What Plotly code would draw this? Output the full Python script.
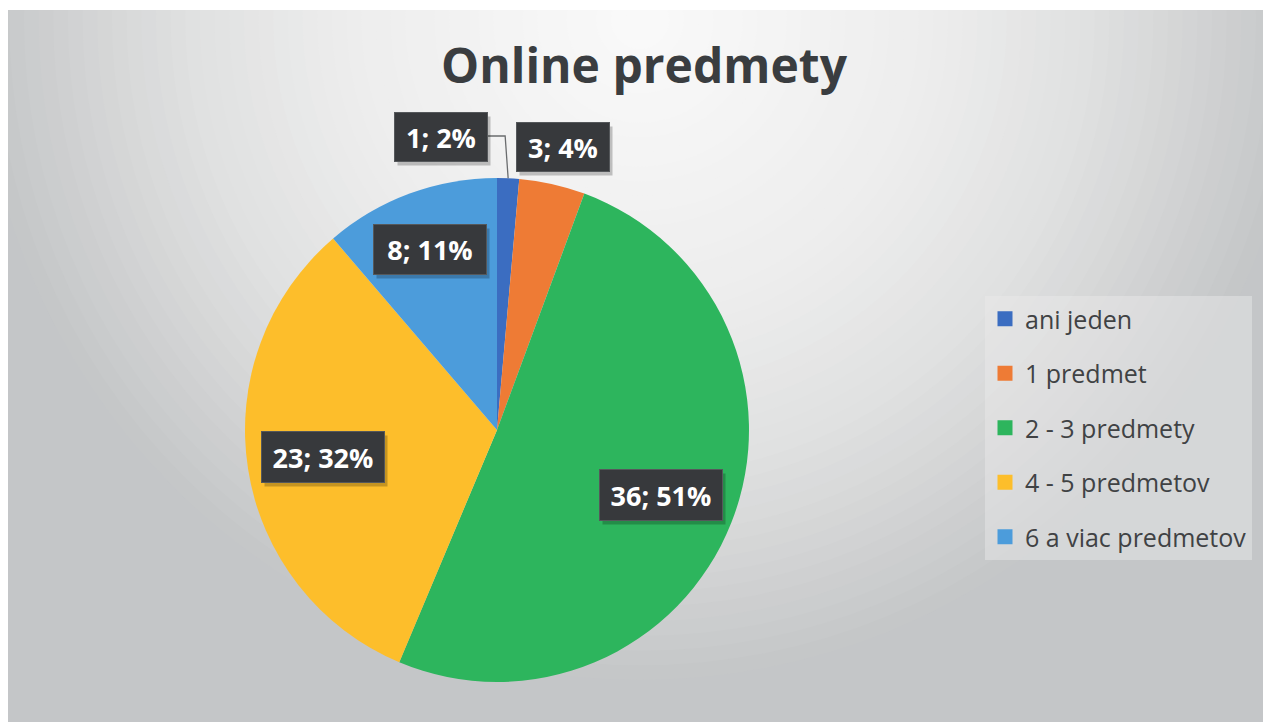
import math
import plotly.graph_objects as go

# ---- data ----
categories = ["ani jeden", "1 predmet", "2 - 3 predmety", "4 - 5 predmetov", "6 a viac predmetov"]
counts = [1, 3, 36, 23, 8]
percent_labels = ["2%", "4%", "51%", "32%", "11%"]
title_text = "Online predmety"

# ---- styles ----
colors = ["#3B6DC1", "#EE7B35", "#2DB55D", "#FDBE2B", "#4C9CDB"]
OFF = 8                         # page body margin
W, H = 1271 - OFF, 722 - OFF    # figure size
PCX, PCY, PR = 497, 430, 252    # pie centre / radius in screen px
label_radial = [None, None, 0.70, 0.70, 0.765]
label_fixed_px = {0: (441, 137), 1: (563, 147)}
label_box = [(92, 48), (92, 48), (122, 50), (122, 50), (112, 49)]
FONT = "Open Sans"

def px(x):
    return (x - OFF) / W

def py(y):
    return 1 - (y - OFF) / H

fig = go.Figure()

fig.add_trace(go.Pie(
    labels=categories,
    values=counts,
    sort=False,
    direction="clockwise",
    rotation=0,
    marker=dict(colors=colors, line=dict(width=0)),
    textinfo="none",
    hoverinfo="label+value+percent",
    showlegend=False,
    domain=dict(x=[px(PCX - PR), px(PCX + PR)], y=[py(PCY + PR), py(PCY - PR)]),
))

# legend entries (one per category) for spacing control
for i, (cat, col) in enumerate(zip(categories, colors)):
    fig.add_trace(go.Scatter(
        x=[None], y=[None], mode="markers", name=cat,
        marker=dict(symbol="square", size=15, color=col),
        legendgroup=f"g{i}", showlegend=True, hoverinfo="skip",
    ))

# ---- background radial gradient ----
shapes = []
shapes.append(dict(type="rect", xref="paper", yref="paper", x0=0, x1=1, y0=0, y1=1,
                   fillcolor="rgb(196,198,200)", line=dict(width=0), layer="below"))
GCX, GCY, GR = 640, 20, 660
stops = [(0.0, (250, 250, 250)), (0.45, (237, 237, 237)), (0.7, (223, 224, 224)),
         (0.88, (208, 209, 210)), (1.0, (197, 199, 200))]

def grad(t):
    for (t0, c0), (t1, c1) in zip(stops[:-1], stops[1:]):
        if t <= t1:
            f = (t - t0) / (t1 - t0)
            return tuple(round(a + (b - a) * f) for a, b in zip(c0, c1))
    return stops[-1][1]

N = 45
for k in range(N, 0, -1):
    t = k / N
    r = GR * t
    c = grad(t)
    shapes.append(dict(type="circle", xref="paper", yref="paper",
                       x0=px(GCX - r), x1=px(GCX + r), y0=py(GCY + r), y1=py(GCY - r),
                       fillcolor=f"rgb{c}", line=dict(width=0), layer="below"))
# thin white strip at the top
shapes.append(dict(type="rect", xref="paper", yref="paper", x0=0, x1=1, y0=py(10), y1=1.01,
                   fillcolor="white", line=dict(width=0), layer="below"))

# ---- data labels ----
total = sum(counts)
annotations = []
cum = 0
mid_angles = []
for v in counts:
    mid_angles.append((cum + v / 2) / total * 2 * math.pi)
    cum += v

for i, (c, p) in enumerate(zip(counts, percent_labels)):
    a = mid_angles[i]
    if label_radial[i] is not None:
        rr = PR * label_radial[i]
        lx, ly = PCX + rr * math.sin(a), PCY - rr * math.cos(a)
    else:
        lx, ly = label_fixed_px[i]
    bw, bh = label_box[i]
    annotations.append(dict(
        x=px(lx + 3), y=py(ly + 4), xref="paper", yref="paper", showarrow=False,
        text=" ", width=bw, height=bh, bgcolor="rgba(0,0,0,0.22)",
        xanchor="center", yanchor="middle", borderpad=0,
    ))
    annotations.append(dict(
        x=px(lx), y=py(ly), xref="paper", yref="paper", showarrow=False,
        text=f"<b>{c}; {p}</b>", width=bw, height=bh,
        bgcolor="#37393C", bordercolor="#55585B", borderwidth=1, borderpad=0,
        font=dict(family=FONT, size=27, color="white"),
        xanchor="center", yanchor="middle",
    ))

# leader line for the smallest slice
a0 = mid_angles[0]
ex, ey = PCX + PR * math.sin(a0), PCY - PR * math.cos(a0)
bx, by = label_fixed_px[0]
sx = bx + label_box[0][0] / 2
shapes.append(dict(type="path", xref="paper", yref="paper",
                   path=f"M {px(sx)} {py(by - 1)} L {px(ex - 3)} {py(by - 1)} L {px(ex)} {py(ey)}",
                   line=dict(color="#6A6C6E", width=1.3)))

fig.update_layout(
    width=W, height=H,
    margin=dict(l=0, r=0, t=0, b=0),
    paper_bgcolor="white",
    plot_bgcolor="rgba(0,0,0,0)",
    xaxis=dict(visible=False), yaxis=dict(visible=False),
    title=dict(text=f"<b>{title_text}</b>", x=px(644), xanchor="center",
               y=py(66), yanchor="middle",
               font=dict(family=FONT, size=48, color="#3A3D40")),
    legend=dict(
        x=px(985), y=py(296), xanchor="left", yanchor="top",
        traceorder="grouped", tracegroupgap=19,
        font=dict(family=FONT, size=25, color="#404244"),
        bgcolor="rgba(236,236,236,0.45)", borderwidth=0,
        itemclick=False, itemdoubleclick=False,
    ),
    shapes=shapes,
    annotations=annotations,
    showlegend=True,
)

fig.write_html("out.html")
